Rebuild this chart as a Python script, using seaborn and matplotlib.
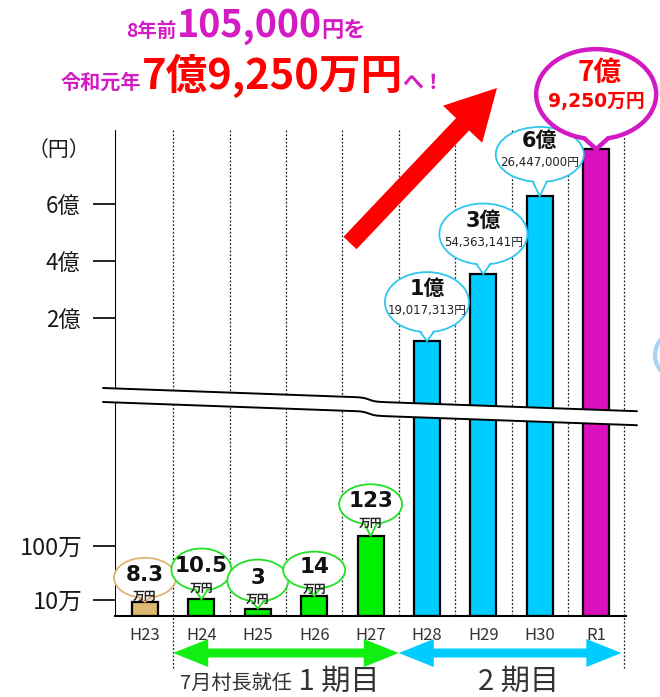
import numpy as np
import pandas as pd
import matplotlib
matplotlib.use('Agg')
import matplotlib.pyplot as plt
import seaborn as sns
from matplotlib.patches import Ellipse, Polygon, FancyArrow

# ---------------- data ----------------
years = ['H23', 'H24', 'H25', 'H26', 'H27', 'H28', 'H29', 'H30', 'R1']
amounts_yen = [83000, 105000, 30000, 140000, 1230000,
               119017313, 354363141, 626447000, 792500000]
big_labels = ['8.3', '10.5', '3', '14', '123', '1億', '3億', '6億', '7億']
small_labels = ['万円', '万円', '万円', '万円', '万円',
                '19,017,313円', '54,363,141円', '26,447,000円', '9,250万円']
upper_ticks = [2, 4, 6]
upper_tick_labels = ['2億', '4億', '6億']
lower_ticks = [10, 100]
lower_tick_labels = ['10万', '100万']
title1 = ['8年前', '105,000', '円を']
title2 = ['令和元年', '7億9,250万円', 'へ！']
term1_labels = ['7月村長就任', ' 1 期目']
term2_label = '2 期目'
y_unit = '（円）'

# ---------------- style ----------------
MAG = '#D41CC4'
RED = '#FF0000'
bar_colors = ['#DDB870'] + ['#00EE00'] * 4 + ['#00CCFF'] * 3 + ['#DA10BE']
edge_colors = ['#E2B474'] + ['#22E022'] * 4 + ['#2EC6EE'] * 3 + ['#D418C4']

sns.set_style('white')
plt.rcParams['font.family'] = ['Noto Sans CJK JP', 'DejaVu Sans']

W, H = 660, 697
fig = plt.figure(figsize=(W / 100, H / 100), dpi=100)


def fax(l, t, r, b, **kw):
    return fig.add_axes([l / W, 1 - b / H, (r - l) / W, (b - t) / H], **kw)


ax_hi = fax(115, 130, 625.5, 412)
ax_lo = fax(115, 402, 625.5, 616)
for a in (ax_hi, ax_lo):
    a.set_facecolor('none')

df = pd.DataFrame({'year': years,
                   'man': np.array(amounts_yen) / 1e4,
                   'oku': np.array(amounts_yen) / 1e8})
pal = dict(zip(years, bar_colors))

# lower (small values) panel, power scale
sns.barplot(data=df, x='year', y='man', hue='year', palette=pal, order=years,
            hue_order=years, width=0.46, saturation=1, edgecolor='black',
            linewidth=1.6, legend=False, ax=ax_lo)
P = 0.64
ax_lo.set_yscale('function', functions=(lambda v: np.sign(v) * np.abs(v) ** P,
                                        lambda v: np.sign(v) * np.abs(v) ** (1 / P)))
ax_lo.set_ylim(0, 575)

# upper (large values) panel, linear
df_hi = df[df['oku'] >= 1]
sns.barplot(data=df_hi, x='year', y='oku', hue='year', palette=pal, order=years,
            width=0.46, saturation=1, edgecolor='black', linewidth=1.6,
            legend=False, ax=ax_hi)
hi_lo, hi_top = -1.298, 8.596
ax_hi.set_ylim(hi_lo, hi_top)
for p in ax_hi.patches:
    top = p.get_y() + p.get_height()
    p.set_y(hi_lo)
    p.set_height(top - hi_lo)

for a in (ax_hi, ax_lo):
    a.set_xlim(-0.532, 8.52)
    a.set_xlabel('')
    a.set_ylabel('')
    for s in ('top', 'right'):
        a.spines[s].set_visible(False)
    a.spines['left'].set_color('black')
    a.spines['left'].set_linewidth(1.5)
    a.tick_params(axis='y', length=16, width=1.2, color='black', pad=9,
                  labelcolor='#1a1a1a', left=True)
ax_hi.tick_params(axis='y', labelsize=16)
ax_lo.tick_params(axis='y', labelsize=17, pad=7)
ax_hi.spines['bottom'].set_visible(False)
ax_hi.set_xticks([])
ax_hi.set_yticks(upper_ticks)
ax_hi.set_yticklabels(upper_tick_labels)
ax_lo.spines['bottom'].set_color('black')
ax_lo.spines['bottom'].set_linewidth(1.5)
ax_lo.set_yticks(lower_ticks)
ax_lo.set_yticklabels(lower_tick_labels)
ax_lo.yaxis.set_minor_locator(matplotlib.ticker.NullLocator())
ax_lo.set_xticks(range(len(years)))
ax_lo.set_xticklabels(years)
ax_lo.tick_params(axis='x', length=0, pad=8, labelsize=12, labelcolor='#333333')

# ---------------- overlay (pixel coordinates) ----------------
ov = fig.add_axes([0, 0, 1, 1], zorder=5)
ov.set_xlim(0, W)
ov.set_ylim(H, 0)
ov.axis('off')


def to_px(ax, x, y):
    X, Y = ax.transData.transform((x, y))
    return X, H - Y


# axis break geometry
xs = np.linspace(103, 637, 300)
top_line = 388 + 0.036 * (xs - 103) + 4 / (1 + np.exp(-(xs - 369) / 3))
bot_line = top_line + 14

# clip the two panels at the break lines
above = np.vstack([[(0, top_line[0])], np.column_stack([xs, top_line]),
                   [(W, top_line[-1]), (W, 0), (0, 0)]])
below = np.vstack([[(0, bot_line[0])], np.column_stack([xs, bot_line]),
                   [(W, bot_line[-1]), (W, H), (0, H)]])
clip_hi = Polygon(above, closed=True, transform=ov.transData)
clip_lo = Polygon(below, closed=True, transform=ov.transData)
for p in ax_hi.patches:
    p.set_clip_path(clip_hi)
ax_hi.spines['left'].set_clip_path(clip_hi)
for p in ax_lo.patches:
    p.set_clip_path(clip_lo)
ax_lo.spines['left'].set_clip_path(clip_lo)

# dotted separators
for i in range(len(years)):
    xb, _ = to_px(ax_lo, i + 0.5, 0)
    y_end = 670 if i in (0, len(years) - 1) else 616
    ov.plot([xb, xb], [130, y_end], color='#222222', lw=0.9,
            ls=(0, (1.5, 1.5)), zorder=1)

band = np.concatenate([np.column_stack([xs, top_line]),
                       np.column_stack([xs[::-1], bot_line[::-1]])])
ov.add_patch(Polygon(band, closed=True, facecolor='white', edgecolor='none',
                     zorder=2))
ov.plot(xs, top_line, color='black', lw=1.4, zorder=2.1)
ov.plot(xs, bot_line, color='black', lw=1.4, zorder=2.1)

# unit label
ov.text(59, 150, y_unit, fontsize=15, color='#1a1a1a', ha='center', va='center')

# balloons
bal_dy = [24, 30, 28, 26, 32, 39, 40, 42, 55]
bal_w = [62, 60, 61, 62, 63, 84, 88, 88, 120]
bal_h = [40, 42, 42, 37, 40, 60, 61, 55, 90]


def balloon(cx, cy, w, h, tipx, tipy, ec, lw, base):
    ov.add_patch(Ellipse((cx, cy), w, h, facecolor='white', edgecolor=ec,
                         lw=lw, zorder=4))
    yb = cy + (h / 2) * np.sqrt(max(0.0, 1 - (base / (w / 2)) ** 2))
    if tipy > yb:
        ov.add_patch(Polygon([(cx - base, yb - 3), (cx + base, yb - 3), (tipx, tipy)],
                             closed=True, facecolor='white', edgecolor='none',
                             zorder=4.1))
        ov.plot([cx - base, tipx, cx + base], [yb, tipy, yb], color=ec, lw=lw,
                zorder=4.2, solid_joinstyle='miter')


for i, (yr, yen) in enumerate(zip(years, amounts_yen)):
    if i < 5:
        tx, ty = to_px(ax_lo, i, yen / 1e4)
    else:
        tx, ty = to_px(ax_hi, i, yen / 1e8)
    cy = ty - bal_dy[i]
    if i == 8:
        balloon(tx, cy, bal_w[i], bal_h[i], tx, ty, edge_colors[i], 3.2, 12)
        ov.text(tx + 4, cy - 21, big_labels[i], fontsize=20, fontweight='bold',
                color=RED, ha='center', va='center', zorder=6)
        ov.text(tx, cy + 7, small_labels[i], fontsize=13.5, fontweight='bold',
                color=RED, ha='center', va='center', zorder=6,
                family=['DejaVu Sans', 'Noto Sans CJK JP'])
    elif i >= 5:
        balloon(tx, cy, bal_w[i], bal_h[i], tx, ty, edge_colors[i], 1.3, 7)
        ov.text(tx, cy - 13, big_labels[i], fontsize=15, fontweight='bold',
                color='#111111', ha='center', va='center', zorder=6,
                family=['DejaVu Sans', 'Noto Sans CJK JP'])
        ov.text(tx, cy + 8, small_labels[i], fontsize=8.5, color='#222222',
                ha='center', va='center', zorder=6,
                family=['DejaVu Sans', 'Noto Sans CJK JP'])
    else:
        balloon(tx, cy, bal_w[i], bal_h[i], tx, ty, edge_colors[i], 1.3, 6)
        ov.text(tx, cy - 3, big_labels[i], fontsize=15.5, fontweight='bold',
                color='#111111', ha='center', va='center', zorder=6,
                family='DejaVu Sans')
        ov.text(tx, cy + 19, small_labels[i], fontsize=8.5, fontweight='bold',
                color='#222222', ha='center', va='center', zorder=6)

# big red arrow
ov.add_patch(FancyArrow(350, 243, 147, -155, width=18, head_width=54,
                        head_length=50, length_includes_head=True,
                        color=RED, lw=0, zorder=3))

# decorative partial circle at right edge
ov.add_patch(Ellipse((679, 355), 48, 48, facecolor='#F2F8FD', edgecolor='#A9D3F2',
                     lw=3, zorder=1))


# bottom term arrows
def dbl_arrow(x0, x1, y, color, shaft=4.5, head=14, hl=35):
    pts = [(x0, y), (x0 + hl, y - head), (x0 + hl, y - shaft), (x1 - hl, y - shaft),
           (x1 - hl, y - head), (x1, y), (x1 - hl, y + head), (x1 - hl, y + shaft),
           (x0 + hl, y + shaft), (x0 + hl, y + head)]
    ov.add_patch(Polygon(pts, closed=True, facecolor=color, edgecolor='none', zorder=3))


xa, _ = to_px(ax_lo, 0.5, 0)
xb, _ = to_px(ax_lo, 4.5, 0)
xc, _ = to_px(ax_lo, 8.5, 0)
dbl_arrow(xb, xc - 3, 653, '#00CCFF')
dbl_arrow(xa, xb, 653, '#11EE11')

renderer = fig.canvas.get_renderer()


def runs(x, y, parts):
    for s, size, color, weight in parts:
        t = ov.text(x, y, s, fontsize=size, color=color, fontweight=weight,
                    ha='left', va='baseline', zorder=6)
        x += t.get_window_extent(renderer).width


runs(180, 690, [(term1_labels[0], 14.5, '#333333', 'normal'),
                (term1_labels[1], 21, '#333333', 'normal')])
runs(478, 690, [(term2_label, 21, '#333333', 'normal')])

# headline
runs(126, 37, [(title1[0], 14, MAG, 'bold'), (title1[1], 27, MAG, 'bold'),
               (title1[2], 16, MAG, 'bold')])
runs(61, 89, [(title2[0], 14.5, MAG, 'bold'), (title2[1], 30, RED, 'bold'),
              (title2[2], 15, MAG, 'bold')])

fig.savefig('out.png', dpi=100)
